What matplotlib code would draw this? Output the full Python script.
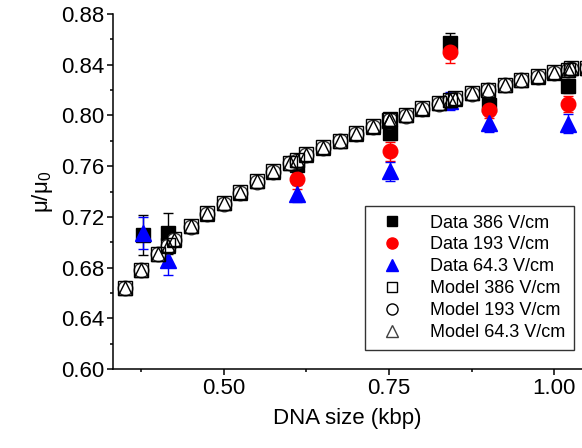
import numpy as np
import matplotlib.pyplot as plt
from matplotlib.lines import Line2D
from matplotlib.ticker import MultipleLocator, FixedLocator

plt.rcParams['font.family'] = ['Liberation Sans', 'DejaVu Sans']
plt.rcParams['mathtext.fontset'] = 'custom'
plt.rcParams['mathtext.rm'] = 'Liberation Sans'

# measured mobility ratio at three field strengths
data_x = [0.378, 0.415, 0.61, 0.752, 0.842, 0.901, 1.021]
data_386 = [0.7057, 0.707, 0.7606, 0.7864, 0.8568, 0.808, 0.823]
err_386 = [0.016, 0.016, 0.006, 0.006, 0.0084, 0.005, 0.005]
data_193 = [np.nan, np.nan, 0.750, 0.7716, 0.8502, 0.804, 0.809]
err_193 = [np.nan, np.nan, 0.008, 0.0075, 0.0087, 0.006, 0.006]
data_64 = [0.7073, 0.686, 0.7382, 0.756, 0.8115, 0.794, 0.7935]
err_64 = [0.0125, 0.0117, 0.0067, 0.0076, 0.007, 0.0073, 0.0075]

# model curves
model_x = [0.35, 0.375, 0.40, 0.415, 0.425, 0.45, 0.475, 0.50, 0.525, 0.55,
           0.575, 0.60, 0.61, 0.625, 0.65, 0.675, 0.70, 0.725, 0.75, 0.752,
           0.775, 0.80, 0.825, 0.842, 0.85, 0.875, 0.90, 0.925, 0.95, 0.975,
           1.00, 1.021, 1.025, 1.05]
model_386 = [0.6642, 0.6784, 0.6911, 0.6977, 0.7022, 0.7129, 0.7227, 0.7311,
             0.7394, 0.7483, 0.7560, 0.7628, 0.7649, 0.7694, 0.7750, 0.7802,
             0.7860, 0.7913, 0.7960, 0.7973, 0.8005, 0.8058, 0.8098, 0.8124,
             0.8137, 0.8177, 0.8203, 0.8242, 0.8282, 0.8308, 0.8340, 0.8361,
             0.8374, 0.8377]
model_193 = [0.6636, 0.6778, 0.6905, 0.6971, 0.7016, 0.7123, 0.7221, 0.7305,
             0.7388, 0.7477, 0.7554, 0.7622, 0.7643, 0.7688, 0.7744, 0.7796,
             0.7854, 0.7907, 0.7954, 0.7967, 0.7999, 0.8052, 0.8092, 0.8118,
             0.8131, 0.8171, 0.8197, 0.8236, 0.8276, 0.8302, 0.8334, 0.8355,
             0.8368, 0.8371]
model_64 = [0.6638, 0.6780, 0.6907, 0.6973, 0.7018, 0.7125, 0.7223, 0.7307,
            0.7390, 0.7479, 0.7556, 0.7624, 0.7645, 0.7690, 0.7746, 0.7798,
            0.7856, 0.7909, 0.7956, 0.7969, 0.8001, 0.8054, 0.8094, 0.8120,
            0.8133, 0.8173, 0.8199, 0.8238, 0.8278, 0.8304, 0.8336, 0.8357,
            0.8370, 0.8373]

fig = plt.figure(figsize=(5.82, 4.48), dpi=100)
ax = fig.add_axes([0.194, 0.176, 0.806, 0.793])

ax.errorbar(data_x, data_386, yerr=err_386, fmt='s', color='black', ms=9.5,
            capsize=3.5, elinewidth=1, capthick=1, zorder=3)
ax.errorbar(data_x, data_193, yerr=err_193, fmt='o', color='red', ms=10.5,
            capsize=3.5, elinewidth=1, capthick=1, zorder=3)
ax.errorbar(data_x, data_64, yerr=err_64, fmt='^', color='blue', ms=11,
            capsize=3.5, elinewidth=1, capthick=1, zorder=3)

ax.plot(model_x, model_193, 'o', ms=10.5, mfc='white', mec='#303030', mew=1,
        zorder=4, clip_on=False)
ax.plot(model_x, model_386, 's', ms=9.5, mfc='none', mec='black', mew=1,
        zorder=5, clip_on=False)
ax.plot(model_x, model_64, '^', ms=10.5, mfc='none', mec='black', mew=1,
        zorder=6, clip_on=False)

ax.set_xlim(0.332, 1.042)
ax.set_ylim(0.60, 0.88)
ax.xaxis.set_major_locator(FixedLocator([0.50, 0.75, 1.00]))
ax.xaxis.set_minor_locator(FixedLocator([0.375, 0.625, 0.875]))
ax.yaxis.set_major_locator(MultipleLocator(0.04))
ax.yaxis.set_minor_locator(MultipleLocator(0.02))
ax.xaxis.set_major_formatter(plt.FormatStrFormatter('%.2f'))
ax.yaxis.set_major_formatter(plt.FormatStrFormatter('%.2f'))

ax.spines['top'].set_visible(False)
ax.spines['right'].set_visible(False)
for s in ['left', 'bottom']:
    ax.spines[s].set_linewidth(1.1)
ax.tick_params(which='major', direction='out', length=4.5, width=1.1,
               labelsize=16, pad=2)
ax.tick_params(which='minor', direction='out', length=2.5, width=1.1)

ax.set_xlabel('DNA size (kbp)', fontsize=16, labelpad=6)
ax.set_ylabel('\u03bc/\u03bc$_{\\mathrm{0}}$', fontsize=16, labelpad=4)

# legend shows markers only, no error bars
handles = [
    Line2D([], [], ls='none', marker='s', ms=7, color='black'),
    Line2D([], [], ls='none', marker='o', ms=8, color='red'),
    Line2D([], [], ls='none', marker='^', ms=9, color='blue'),
    Line2D([], [], ls='none', marker='s', ms=7, mfc='none', mec='black', mew=1),
    Line2D([], [], ls='none', marker='o', ms=8, mfc='none', mec='black', mew=1),
    Line2D([], [], ls='none', marker='^', ms=8, mfc='none', mec='#404040', mew=1),
]
labels = ['Data 386 V/cm', 'Data 193 V/cm', 'Data 64.3 V/cm',
          'Model 386 V/cm', 'Model 193 V/cm', 'Model 64.3 V/cm']
leg = ax.legend(handles, labels, loc='lower right',
                bbox_to_anchor=(0.983, 0.054), fontsize=13,
                frameon=True, fancybox=False, edgecolor='black',
                labelspacing=0.27, handletextpad=1.1, borderpad=0.5,
                handlelength=2.0, borderaxespad=0)
leg.get_frame().set_linewidth(1)

fig.savefig('out.png', dpi=100)
